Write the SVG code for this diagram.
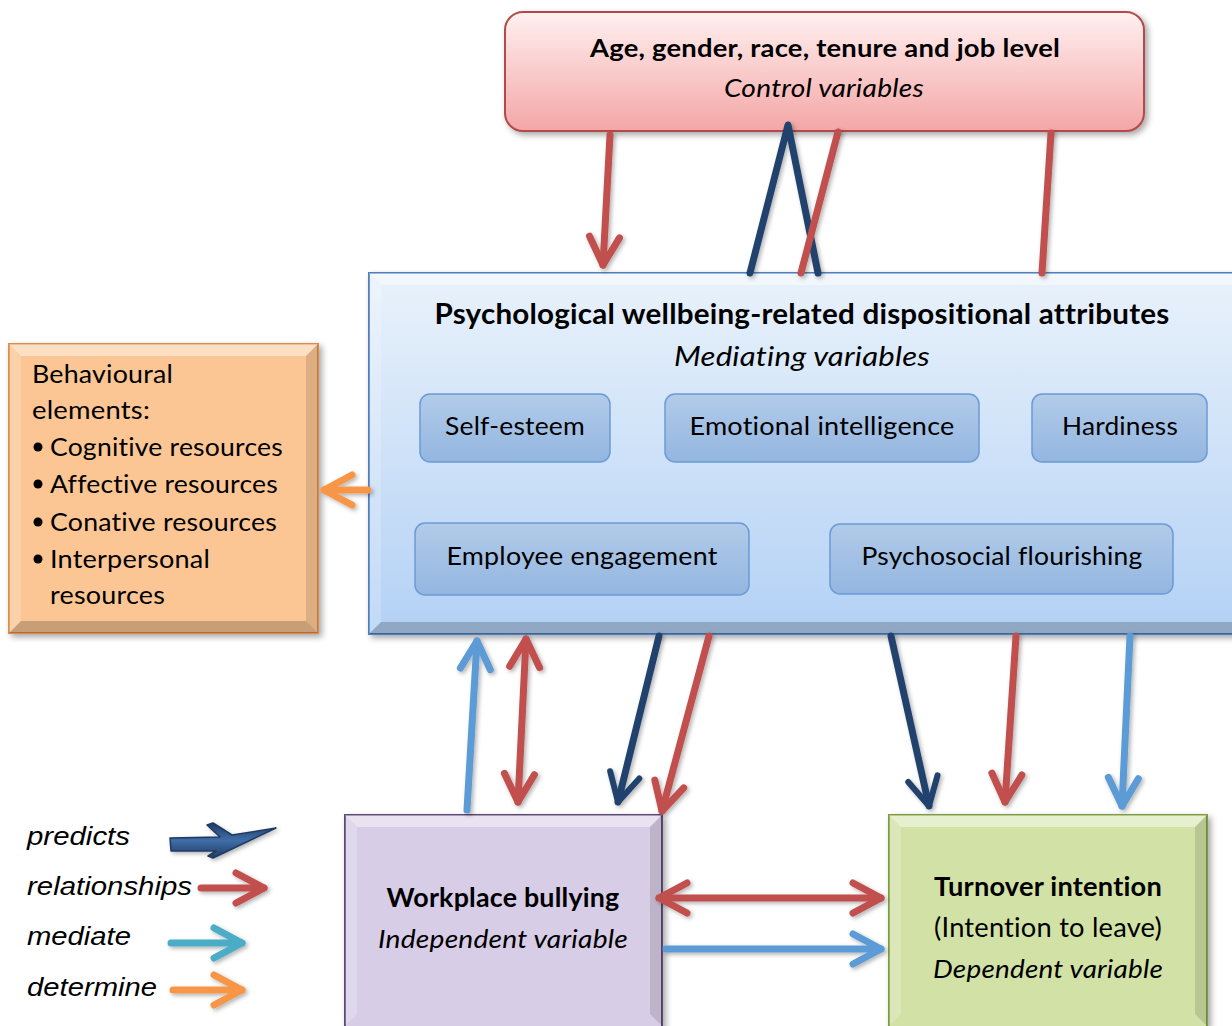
<svg xmlns="http://www.w3.org/2000/svg" width="1232" height="1026" viewBox="0 0 1232 1026">
<style>
.t{font-family:Lato,"Open Sans","Liberation Sans",sans-serif;fill:#000;font-variant-ligatures:none;font-feature-settings:"liga" 0,"clig" 0,"calt" 0;letter-spacing:0.2px}
.b{font-weight:bold}
.i{font-style:italic}
.lg{font-family:"Liberation Sans",Arial,sans-serif;font-style:italic;font-size:26px;fill:#000}
.ar{fill:none;stroke-width:7;stroke-linecap:round;stroke-linejoin:round}
.red{stroke:#c0504d}
.navy{stroke:#24436e}
.lb{stroke:#5b9bd5}
.teal{stroke:#4bacc6}
.org{stroke:#f79646}
.sub{stroke:#6b9bd6;stroke-width:1.5}
.hl{fill:#fff;opacity:.45}
.hl2{fill:#fff;opacity:.2}
.dk{fill:#000;opacity:.12}
.dk2{fill:#000;opacity:.2}
</style>
<defs>
<filter id="sh" x="-10%" y="-10%" width="130%" height="130%"><feDropShadow dx="3" dy="3" stdDeviation="3" flood-opacity="0.35"/></filter>
<filter id="ash" x="-20%" y="-20%" width="140%" height="140%"><feDropShadow dx="2" dy="2" stdDeviation="2" flood-opacity="0.3"/></filter>
<linearGradient id="gPink" x1="0" y1="0" x2="0" y2="1"><stop offset="0" stop-color="#fff0f0"/><stop offset="1" stop-color="#f4a6a6"/></linearGradient>
<linearGradient id="gBlue" x1="0" y1="0" x2="0" y2="1"><stop offset="0" stop-color="#e9f2fb"/><stop offset="1" stop-color="#b3d1f5"/></linearGradient>
<linearGradient id="gSub" x1="0" y1="0" x2="0" y2="1"><stop offset="0" stop-color="#b2cbe9"/><stop offset="1" stop-color="#93b6e0"/></linearGradient>
<linearGradient id="gNavy" x1="0" y1="0" x2="0" y2="1"><stop offset="0" stop-color="#1f3b63"/><stop offset="0.5" stop-color="#3f6ea8"/><stop offset="1" stop-color="#1f3b63"/></linearGradient>
<marker id="mRed" markerUnits="userSpaceOnUse" viewBox="-40 -24 48 48" markerWidth="48" markerHeight="48" refX="0" refY="0" orient="auto-start-reverse" overflow="visible"><path d="M-28,-15 L0,0 L-28,15" fill="none" stroke="#c0504d" stroke-width="7" stroke-linecap="round" stroke-linejoin="round"/></marker>
<marker id="mNavy" markerUnits="userSpaceOnUse" viewBox="-40 -24 48 48" markerWidth="48" markerHeight="48" refX="0" refY="0" orient="auto-start-reverse" overflow="visible"><path d="M-28,-15 L0,0 L-28,15" fill="none" stroke="#24436e" stroke-width="6" stroke-linecap="round" stroke-linejoin="round"/></marker>
<marker id="mLb" markerUnits="userSpaceOnUse" viewBox="-40 -24 48 48" markerWidth="48" markerHeight="48" refX="0" refY="0" orient="auto-start-reverse" overflow="visible"><path d="M-28,-15 L0,0 L-28,15" fill="none" stroke="#5b9bd5" stroke-width="7" stroke-linecap="round" stroke-linejoin="round"/></marker>
<marker id="mTeal" markerUnits="userSpaceOnUse" viewBox="-40 -24 48 48" markerWidth="48" markerHeight="48" refX="0" refY="0" orient="auto-start-reverse" overflow="visible"><path d="M-28,-15 L0,0 L-28,15" fill="none" stroke="#4bacc6" stroke-width="7" stroke-linecap="round" stroke-linejoin="round"/></marker>
<marker id="mOrg" markerUnits="userSpaceOnUse" viewBox="-40 -24 48 48" markerWidth="48" markerHeight="48" refX="0" refY="0" orient="auto-start-reverse" overflow="visible"><path d="M-28,-15 L0,0 L-28,15" fill="none" stroke="#f79646" stroke-width="7" stroke-linecap="round" stroke-linejoin="round"/></marker>
</defs>
<rect width="1232" height="1026" fill="#fff"/>

<g id="control">
<rect x="505" y="12" width="639" height="119" rx="18" fill="url(#gPink)" stroke="#b34848" stroke-width="2" filter="url(#sh)"/>
<text class="t b" x="825" y="57" font-size="25" text-anchor="middle" textLength="470" lengthAdjust="spacingAndGlyphs">Age, gender, race, tenure and job level</text>
<text class="t i" x="824" y="97" font-size="25" text-anchor="middle" textLength="200" lengthAdjust="spacingAndGlyphs">Control variables</text>
</g>

<g id="mediators">
<rect x="369" y="273" width="875" height="361" fill="url(#gBlue)" stroke="#4f7fbf" stroke-width="2" filter="url(#sh)"/>
<polygon class="hl" points="369,273 1244,273 1232,285 381,285"/>
<polygon class="hl2" points="369,273 381,285 381,622 369,634"/>
<polygon class="dk2" points="369,634 1244,634 1232,622 381,622"/>
<text class="t b" x="802" y="324" font-size="28" text-anchor="middle" textLength="735" lengthAdjust="spacingAndGlyphs">Psychological wellbeing-related dispositional attributes</text>
<text class="t i" x="802" y="366" font-size="27" text-anchor="middle" textLength="256" lengthAdjust="spacingAndGlyphs">Mediating variables</text>
</g>

<g id="self-esteem">
<rect class="sub" x="420" y="394" width="190" height="68" rx="10" fill="url(#gSub)"/>
<text class="t" x="515" y="435" font-size="25" text-anchor="middle" textLength="140" lengthAdjust="spacingAndGlyphs">Self-esteem</text>
</g>
<g id="emotional-intelligence">
<rect class="sub" x="665" y="394" width="314" height="68" rx="10" fill="url(#gSub)"/>
<text class="t" x="822" y="435" font-size="25" text-anchor="middle" textLength="265" lengthAdjust="spacingAndGlyphs">Emotional intelligence</text>
</g>
<g id="hardiness">
<rect class="sub" x="1032" y="394" width="175" height="68" rx="10" fill="url(#gSub)"/>
<text class="t" x="1120" y="435" font-size="25" text-anchor="middle" textLength="116" lengthAdjust="spacingAndGlyphs">Hardiness</text>
</g>
<g id="employee-engagement">
<rect class="sub" x="415" y="523" width="334" height="72" rx="10" fill="url(#gSub)"/>
<text class="t" x="582" y="565" font-size="25" text-anchor="middle" textLength="271" lengthAdjust="spacingAndGlyphs">Employee engagement</text>
</g>
<g id="psychosocial-flourishing">
<rect class="sub" x="830" y="524" width="343" height="70" rx="10" fill="url(#gSub)"/>
<text class="t" x="1002" y="565" font-size="25" text-anchor="middle" textLength="281" lengthAdjust="spacingAndGlyphs">Psychosocial flourishing</text>
</g>

<g id="behavioural">
<rect x="9" y="344" width="309" height="289" fill="#fbc694" stroke="#e08a47" stroke-width="2" filter="url(#sh)"/>
<polygon class="hl" points="9,344 318,344 306,356 21,356"/>
<polygon class="hl2" points="9,344 21,356 21,621 9,633"/>
<polygon class="dk" points="318,344 318,633 306,621 306,356"/>
<polygon class="dk2" points="9,633 318,633 306,621 21,621"/>
<g class="t" font-size="25">
<text x="32" y="383" textLength="141" lengthAdjust="spacingAndGlyphs">Behavioural</text>
<text x="32" y="419" textLength="118" lengthAdjust="spacingAndGlyphs">elements:</text>
<circle cx="38" cy="447" r="4.5"/><text x="50" y="456" textLength="233" lengthAdjust="spacingAndGlyphs">Cognitive resources</text>
<circle cx="38" cy="484" r="4.5"/><text x="50" y="493" textLength="228" lengthAdjust="spacingAndGlyphs">Affective resources</text>
<circle cx="38" cy="522" r="4.5"/><text x="50" y="531" textLength="227" lengthAdjust="spacingAndGlyphs">Conative resources</text>
<circle cx="38" cy="559" r="4.5"/><text x="50" y="568" textLength="160" lengthAdjust="spacingAndGlyphs">Interpersonal</text>
<text x="50" y="604" textLength="115" lengthAdjust="spacingAndGlyphs">resources</text>
</g>
</g>

<g id="workplace-bullying">
<rect x="345" y="815" width="317" height="212" fill="#d8cde6" stroke="#5b4a78" stroke-width="2" filter="url(#sh)"/>
<polygon class="hl" points="345,815 662,815 650,827 357,827"/>
<polygon class="hl2" points="345,815 357,827 357,1014 345,1026"/>
<polygon class="dk" points="662,815 662,1026 650,1014 650,827"/>
<text class="t b" x="503" y="907" font-size="26" text-anchor="middle" textLength="233" lengthAdjust="spacingAndGlyphs">Workplace bullying</text>
<text class="t i" x="503" y="948" font-size="26" text-anchor="middle" textLength="250" lengthAdjust="spacingAndGlyphs">Independent variable</text>
</g>

<g id="turnover-intention">
<rect x="889" y="815" width="318" height="212" fill="#d2e2a7" stroke="#7f9c3f" stroke-width="2" filter="url(#sh)"/>
<polygon class="hl" points="889,815 1207,815 1195,827 901,827"/>
<polygon class="hl2" points="889,815 901,827 901,1014 889,1026"/>
<polygon class="dk" points="1207,815 1207,1026 1195,1014 1195,827"/>
<text class="t b" x="1048" y="896" font-size="26" text-anchor="middle" textLength="228" lengthAdjust="spacingAndGlyphs">Turnover intention</text>
<text class="t" x="1048" y="937" font-size="26" text-anchor="middle" textLength="228" lengthAdjust="spacingAndGlyphs">(Intention to leave)</text>
<text class="t i" x="1048" y="978" font-size="26" text-anchor="middle" textLength="230" lengthAdjust="spacingAndGlyphs">Dependent variable</text>
</g>

<g id="connectors" filter="url(#ash)">
<line class="ar red" x1="610" y1="135" x2="603" y2="265" marker-end="url(#mRed)"/>
<polyline class="ar navy" stroke-width="5" points="750,273 788,125 818,273"/>
<line class="ar red" x1="838" y1="132" x2="801" y2="273"/>
<line class="ar red" x1="1051" y1="133" x2="1042" y2="273"/>
<line class="ar org" x1="368" y1="490" x2="324" y2="490" marker-end="url(#mOrg)"/>
<line class="ar lb" x1="467" y1="810" x2="477" y2="641" marker-end="url(#mLb)"/>
<line class="ar red" x1="526" y1="639" x2="518" y2="802" marker-start="url(#mRed)" marker-end="url(#mRed)"/>
<line class="ar navy" stroke-width="6" x1="659" y1="636" x2="618" y2="802" marker-end="url(#mNavy)"/>
<line class="ar red" x1="709" y1="636" x2="662" y2="811" marker-end="url(#mRed)"/>
<line class="ar navy" stroke-width="6" x1="891" y1="636" x2="929" y2="806" marker-end="url(#mNavy)"/>
<line class="ar red" x1="1016" y1="636" x2="1005" y2="802" marker-end="url(#mRed)"/>
<line class="ar lb" x1="1130" y1="636" x2="1122" y2="806" marker-end="url(#mLb)"/>
<line class="ar red" x1="659" y1="898" x2="881" y2="898" marker-start="url(#mRed)" marker-end="url(#mRed)"/>
<line class="ar lb" x1="666" y1="949" x2="881" y2="949" marker-end="url(#mLb)"/>
</g>

<g id="legend">
<text class="lg" x="27" y="845" textLength="103" lengthAdjust="spacingAndGlyphs">predicts</text>
<text class="lg" x="27" y="895" textLength="165" lengthAdjust="spacingAndGlyphs">relationships</text>
<text class="lg" x="27" y="945" textLength="104" lengthAdjust="spacingAndGlyphs">mediate</text>
<text class="lg" x="27" y="996" textLength="130" lengthAdjust="spacingAndGlyphs">determine</text>
<g filter="url(#ash)">
<path d="M170,838 L171,851 L216,851 L208,856 L213,858 L276,828 L232,835 L213,823 L207,825 L220,837 Z" fill="url(#gNavy)" stroke="#1f3b63" stroke-width="1.5" stroke-linejoin="round"/>
<line class="ar red" x1="201" y1="888" x2="264" y2="888" marker-end="url(#mRed)"/>
<line class="ar teal" x1="171" y1="943" x2="242" y2="943" marker-end="url(#mTeal)"/>
<line class="ar org" x1="173" y1="990" x2="242" y2="990" marker-end="url(#mOrg)"/>
</g>
</g>
</svg>
